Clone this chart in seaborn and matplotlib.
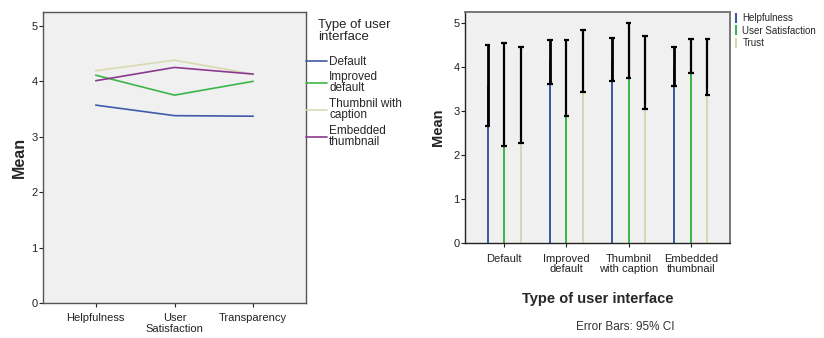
import numpy as np
import pandas as pd
import seaborn as sns
import matplotlib.pyplot as plt
from matplotlib.lines import Line2D

# left chart: means per measure and interface
measures = ['Helpfulness', 'User\nSatisfaction', 'Transparency']
interfaces = ['Default', 'Improved\ndefault', 'Thumbnil with\ncaption', 'Embedded\nthumbnail']
mean_default = [3.57, 3.38, 3.37]
mean_improved = [4.11, 3.75, 4.00]
mean_thumb = [4.19, 4.38, 4.13]
mean_embedded = [4.01, 4.25, 4.13]

# right chart: bars with 95% CI
groups = ['Default', 'Improved\ndefault', 'Thumbnil\nwith caption', 'Embedded\nthumbnail']
series = ['Helpfulness', 'User Satisfaction', 'Trust']
help_mean = [3.57, 4.11, 4.17, 4.01]
help_lo = [2.66, 3.61, 3.69, 3.56]
help_hi = [4.49, 4.61, 4.65, 4.46]
sat_mean = [3.38, 3.75, 4.38, 4.25]
sat_lo = [2.21, 2.88, 3.75, 3.87]
sat_hi = [4.55, 4.61, 5.00, 4.63]
trust_mean = [3.37, 4.13, 3.87, 4.00]
trust_lo = [2.28, 3.43, 3.04, 3.36]
trust_hi = [4.46, 4.83, 4.71, 4.63]

line_colors = ['#3f5aa8', '#3cb64a', '#d9d8b2', '#8a3a8c']
bar_colors = ['#3f5aa8', '#3cb64a', '#d6d7b0']

sns.set_style('white')
plt.rcParams['font.family'] = ['Liberation Sans', 'DejaVu Sans']

fig = plt.figure(figsize=(8.24, 3.38), dpi=100)
bg = '#f0f0f0'

# ---------- left: line chart ----------
ax1 = fig.add_axes([43 / 824, 35 / 338, 263 / 824, 291 / 338])
ax1.set_facecolor(bg)
rows = []
for name, vals in zip(interfaces, [mean_default, mean_improved, mean_thumb, mean_embedded]):
    for m, v in zip(measures, vals):
        rows.append({'measure': m, 'ui': name, 'mean': v})
df1 = pd.DataFrame(rows)
sns.lineplot(data=df1, x='measure', y='mean', hue='ui', palette=line_colors,
             sort=False, lw=1.2, ax=ax1, legend=False)
ax1.set_xlim(-0.67, 2.67)
ax1.set_ylim(0, 5.25)
ax1.set_yticks(range(6))
ax1.set_xlabel('')
ax1.set_ylabel('Mean', fontsize=11.5, fontweight='bold', labelpad=3)
ax1.tick_params(axis='both', direction='out', length=3, width=0.8, labelsize=8,
                bottom=True, left=True, pad=1, colors='#222222')
ax1.tick_params(axis='x', pad=4)
for lab in ax1.get_xticklabels():
    lab.set_linespacing(1.1)
for s in ax1.spines.values():
    s.set_color('#555555')
    s.set_linewidth(1.0)

handles = [Line2D([], [], color=c, lw=1.2) for c in line_colors]
leg1 = ax1.legend(handles, interfaces, title='Type of user\ninterface',
                  loc='upper left', bbox_to_anchor=(1.0, 0.975), frameon=False,
                  fontsize=8.5, title_fontsize=9.5, handlelength=1.75,
                  handletextpad=0.2, labelspacing=0.3, borderaxespad=0,
                  borderpad=0)
leg1._legend_box.align = 'center'
leg1._legend_box.sep = 9
for t in leg1.get_texts():
    t.set_linespacing(0.9)
leg1.get_title().set_linespacing(1.0)

# ---------- right: bar chart with CI ----------
ax2 = fig.add_axes([465 / 824, 95 / 338, 265 / 824, 231 / 338])
ax2.set_facecolor(bg)
df2 = pd.DataFrame({
    'group': groups * 3,
    'series': [s for s in series for _ in groups],
    'mean': help_mean + sat_mean + trust_mean,
})
sns.barplot(data=df2, x='group', y='mean', hue='series', palette=bar_colors,
            width=0.8, gap=0.88, errorbar=None, linewidth=0, edgecolor='none',
            saturation=1, ax=ax2, legend=False)
ci_lo = [help_lo, sat_lo, trust_lo]
ci_hi = [help_hi, sat_hi, trust_hi]
for k, cont in enumerate(ax2.containers):
    xs = [p.get_x() + p.get_width() / 2 for p in cont.patches]
    lo = np.array(ci_lo[k])
    hi = np.array(ci_hi[k])
    ax2.vlines(xs, lo, hi, color='black', lw=2.0 if k == 0 else 1.6, zorder=4)
    ax2.hlines(list(lo) + list(hi), [x - 0.045 for x in xs] * 2, [x + 0.045 for x in xs] * 2,
               color='black', lw=1.6, zorder=4)
ax2.set_xlim(-0.63, 3.63)
ax2.set_ylim(0, 5.25)
ax2.set_yticks(range(6))
ax2.set_xlabel('Type of user interface', fontsize=10.5, fontweight='bold', labelpad=13)
ax2.set_ylabel('Mean', fontsize=10.5, fontweight='bold', labelpad=6)
ax2.tick_params(axis='both', direction='out', length=3, width=0.8, labelsize=8,
                bottom=True, left=True, pad=1, colors='#222222')
ax2.tick_params(axis='x', pad=5)
for lab in ax2.get_xticklabels():
    lab.set_linespacing(0.95)
for name, s in ax2.spines.items():
    s.set_color('#222222' if name in ('left', 'bottom') else '#777777')
    s.set_linewidth(1.0 if name in ('left', 'bottom') else 1.4)

handles2 = [Line2D([], [], color=c, marker='|', ls='none', markersize=7, mew=1.5)
            for c in bar_colors]
ax2.legend(handles2, series, loc='upper left', bbox_to_anchor=(1.01, 0.995),
           frameon=False, fontsize=7, handlelength=0.6, handletextpad=0.4,
           labelspacing=0.25, borderaxespad=0, borderpad=0)

fig.text(625 / 824, 1 - 327 / 338, 'Error Bars: 95% CI', ha='center', va='center',
         fontsize=8.5, color='#333333')

fig.savefig('out.png', dpi=100, facecolor='white')
